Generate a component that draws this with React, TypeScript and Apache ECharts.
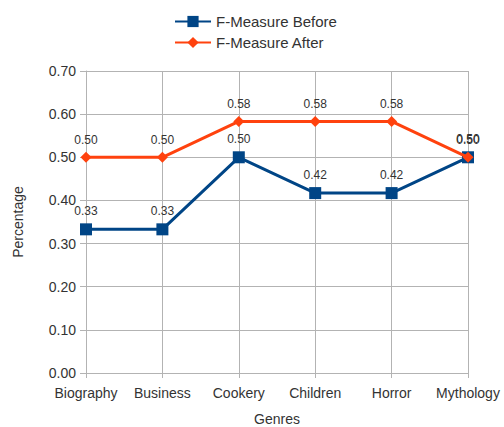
import React, { useEffect, useRef } from "react";
import * as echarts from "echarts";

const categories = ["Biography", "Business", "Cookery", "Children", "Horror", "Mythology"];
const before = [0.333, 0.333, 0.5, 0.417, 0.417, 0.5];
const after = [0.5, 0.5, 0.583, 0.583, 0.583, 0.5];
const seriesNames = ["F-Measure Before", "F-Measure After"];

export default function App() {
  const ref = useRef<HTMLDivElement>(null);
  useEffect(() => {
    const chart = echarts.init(ref.current!, null, { renderer: "svg" });
    const font = "'Liberation Sans', Arial, sans-serif";
    const label = {
      show: true,
      position: "top",
      distance: 6,
      fontSize: 12,
      color: "#333",
      fontFamily: font,
      formatter: (p: any) => p.value.toFixed(2),
    };
    chart.setOption({
      animation: false,
      textStyle: { fontFamily: font },
      legend: {
        orient: "vertical",
        left: 169,
        top: 9,
        itemGap: 6,
        itemWidth: 36,
        itemHeight: 14,
        textStyle: { fontSize: 15, color: "#333", fontFamily: font },
        data: seriesNames,
      },
      grid: { left: 86, right: 36, top: 71, bottom: 54, containLabel: false, outerBoundsMode: "none" },
      xAxis: {
        type: "category",
        data: categories,
        boundaryGap: false,
        name: "Genres",
        nameLocation: "middle",
        nameGap: 39,
        nameTextStyle: { fontSize: 14, color: "#333" },
        axisLine: { lineStyle: { color: "#b3b3b3" } },
        axisTick: { show: true, length: 5, lineStyle: { color: "#b3b3b3" } },
        axisLabel: { fontSize: 14, color: "#333", margin: 13, interval: 0 },
        splitLine: { show: true, lineStyle: { color: "#b3b3b3" } },
      },
      yAxis: {
        type: "value",
        min: 0,
        max: 0.7,
        interval: 0.1,
        name: "Percentage",
        nameLocation: "middle",
        nameGap: 61,
        nameTextStyle: { fontSize: 14, color: "#333" },
        axisLine: { show: true, lineStyle: { color: "#b3b3b3" } },
        axisTick: { show: true, length: 6, lineStyle: { color: "#b3b3b3" } },
        axisLabel: { fontSize: 14, color: "#333", margin: 10, formatter: (v: number) => v.toFixed(2) },
        splitLine: { show: true, lineStyle: { color: "#b3b3b3" } },
      },
      series: [
        {
          name: seriesNames[0],
          type: "line",
          data: before,
          color: "#004586",
          symbol: "rect",
          symbolSize: 12,
          lineStyle: { width: 3, color: "#004586" },
          itemStyle: { color: "#004586" },
          label,
          z: 2,
        },
        {
          name: seriesNames[1],
          type: "line",
          data: after,
          color: "#ff420e",
          symbol: "diamond",
          symbolSize: 11,
          lineStyle: { width: 3, color: "#ff420e" },
          itemStyle: { color: "#ff420e" },
          label,
          z: 3,
        },
      ],
    });
    return () => chart.dispose();
  }, []);
  return <div ref={ref} style={{ width: 504, height: 427, position: "absolute", left: 0, top: 0 }} />;
}
